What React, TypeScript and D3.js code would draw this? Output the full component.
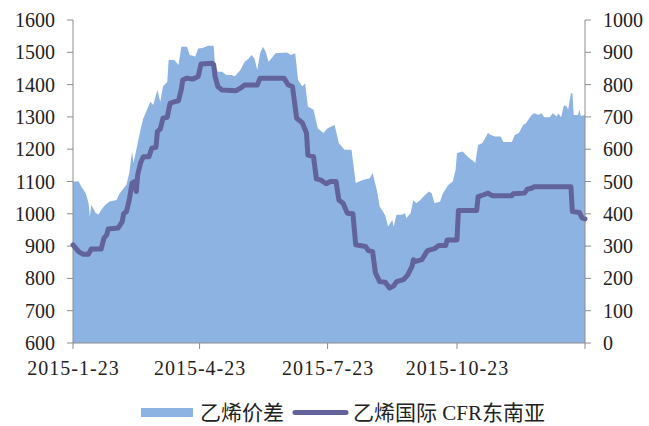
import React from "react";
import * as d3 from "d3";

// Day offsets from 2015-01-23
const spreadDays = [
  0, 4, 6, 9, 11, 12, 13, 16, 18, 20,
  23, 26, 31, 33, 36, 38, 40, 42, 43, 45,
  48, 50, 52, 55, 57, 60, 62, 64, 67, 68,
  72, 75, 77, 81, 83, 87, 89, 92, 96, 100,
  101, 103, 106, 109, 113, 115, 119, 122, 125, 127,
  129, 131, 133, 135, 137, 139, 141, 144, 152, 155,
  158, 160, 163, 165, 167, 171, 174, 178, 181, 186,
  189, 193, 198, 201, 206, 211, 213, 216, 218, 222,
  224, 227, 228, 230, 234, 236, 237, 240, 242, 244,
  247, 249, 253, 255, 257, 261, 263, 267, 270, 272,
  273, 277, 281, 285, 286, 288, 291, 293, 295, 297,
  300, 304, 306, 312, 314, 317, 320, 322, 326, 328,
  331, 333, 335, 339, 341, 344, 345, 347, 349, 351,
  352, 354, 355, 356, 359, 360, 361, 364,
];
// 乙烯价差 (right axis)
const spreadValues = [
  500, 500, 484, 464, 434, 392, 428, 403, 397, 412,
  428, 438, 443, 462, 479, 490, 526, 593, 557, 598,
  660, 696, 716, 747, 737, 783, 747, 794, 809, 876,
  876, 861, 917, 917, 892, 887, 912, 913, 920, 920,
  861, 840, 840, 830, 830, 825, 845, 871, 881, 892,
  881, 845, 897, 917, 902, 871, 881, 897, 899, 892,
  897, 814, 794, 804, 732, 722, 665, 650, 665, 675,
  619, 598, 598, 495, 505, 510, 526, 474, 423, 395,
  361, 381, 361, 397, 397, 402, 387, 402, 443, 433,
  443, 453, 469, 464, 433, 438, 464, 490, 500, 536,
  588, 593, 575, 562, 557, 613, 619, 634, 650, 644,
  639, 639, 622, 622, 644, 650, 675, 680, 706, 711,
  706, 712, 699, 699, 711, 701, 711, 699, 736, 732,
  722, 773, 773, 706, 706, 722, 703, 706,
];

const priceDays = [
  0, 4, 7, 11, 13, 20, 22, 24, 25, 32,
  35, 36, 38, 40, 42, 44, 45, 46, 48, 50,
  54, 56, 59, 60, 62, 64, 67, 69, 72, 75,
  77, 78, 81, 85, 89, 91, 99, 100, 101, 103,
  106, 116, 119, 122, 131, 133, 150, 153, 156, 159,
  163, 166, 167, 171, 173, 176, 180, 183, 187, 189,
  192, 195, 199, 201, 208, 210, 213, 215, 218, 222,
  225, 228, 230, 235, 238, 241, 242, 243, 248, 252,
  257, 260, 265, 266, 273, 274, 287, 288, 292, 295,
  298, 312, 313, 321, 323, 326, 328, 354, 355, 360,
  362, 364,
];
// 乙烯国际 CFR东南亚 (left axis)
const priceValues = [
  904, 883, 875, 875, 891, 891, 925, 935, 953, 956,
  976, 1000, 1007, 1043, 1095, 1100, 1069, 1121, 1157, 1177,
  1177, 1203, 1206, 1255, 1262, 1296, 1299, 1342, 1347, 1350,
  1385, 1414, 1420, 1417, 1425, 1464, 1466, 1462, 1425, 1394,
  1383, 1381, 1389, 1399, 1399, 1420, 1420, 1399, 1394, 1296,
  1282, 1250, 1182, 1177, 1108, 1105, 1093, 1100, 1100, 1043,
  1033, 1002, 1000, 904, 899, 886, 883, 817, 790, 788,
  770, 777, 790, 796, 811, 837, 858, 852, 858, 886,
  892, 902, 902, 919, 919, 1010, 1010, 1053, 1059, 1064,
  1056, 1056, 1062, 1064, 1076, 1079, 1084, 1084, 1007, 1004,
  987, 984,
];

const xTickDays = [0, 90, 181, 273, 364];
const xTickLabels = ["2015-1-23", "2015-4-23", "2015-7-23", "2015-10-23", ""];
const leftTicks = [600, 700, 800, 900, 1000, 1100, 1200, 1300, 1400, 1500, 1600];
const rightTicks = [0, 100, 200, 300, 400, 500, 600, 700, 800, 900, 1000];
const seriesNames = ["乙烯价差", "乙烯国际 CFR东南亚"];

const START = new Date(2015, 0, 23);
const dayToDate = (d: number) => d3.timeDay.offset(START, d);

const AREA_COLOR = "#8DB3E2";
const LINE_COLOR = "#63639B";
const AXIS_COLOR = "#8C8C8C";
const FONT = "'Liberation Serif', 'Noto Sans CJK SC', serif";

export default function App() {
  const W = 649, H = 426;
  const left = 73, right = 585, top = 20, bottom = 343;
  const x = d3.scaleTime().domain([START, dayToDate(364)]).range([left, right]);
  const yL = d3.scaleLinear().domain([600, 1600]).range([bottom, top]);
  const yR = d3.scaleLinear().domain([0, 1000]).range([bottom, top]);

  const spread = spreadDays.map((d, i) => ({ date: dayToDate(d), v: spreadValues[i] }));
  const price = priceDays.map((d, i) => ({ date: dayToDate(d), v: priceValues[i] }));

  const areaPath = d3
    .area<{ date: Date; v: number }>()
    .x((d) => x(d.date))
    .y0(yR(0))
    .y1((d) => yR(d.v))(spread) || "";
  const linePath = d3
    .line<{ date: Date; v: number }>()
    .x((d) => x(d.date))
    .y((d) => yL(d.v))(price) || "";

  return (
    <svg
      width={W}
      height={H}
      style={{ position: "absolute", left: 0, top: 0, display: "block", background: "#fff" }}
    >
      <path d={areaPath} fill={AREA_COLOR} />
      {/* left axis */}
      <line x1={left} x2={left} y1={top} y2={bottom} stroke={AXIS_COLOR} strokeWidth={1} />
      {leftTicks.map((t) => (
        <g key={"l" + t}>
          <line x1={left - 6} x2={left} y1={yL(t)} y2={yL(t)} stroke={AXIS_COLOR} />
          <text
            x={left - 18}
            y={yL(t)}
            textAnchor="end"
            dominantBaseline="central"
            fontFamily={FONT}
            fontSize={20}
            fill="#222"
          >
            {t}
          </text>
        </g>
      ))}
      {/* right axis */}
      <line x1={right} x2={right} y1={top} y2={bottom} stroke={AXIS_COLOR} strokeWidth={1} />
      {rightTicks.map((t) => (
        <g key={"r" + t}>
          <line x1={right} x2={right + 6} y1={yR(t)} y2={yR(t)} stroke={AXIS_COLOR} />
          <text
            x={right + 18}
            y={yR(t)}
            textAnchor="start"
            dominantBaseline="central"
            fontFamily={FONT}
            fontSize={20}
            fill="#222"
          >
            {t}
          </text>
        </g>
      ))}
      {/* bottom axis */}
      <line x1={left} x2={right} y1={bottom} y2={bottom} stroke={AXIS_COLOR} strokeWidth={1} />
      {xTickDays.map((d, i) => (
        <g key={"x" + d}>
          <line
            x1={x(dayToDate(d))}
            x2={x(dayToDate(d))}
            y1={bottom}
            y2={bottom + 6}
            stroke={AXIS_COLOR}
          />
          <text
            x={x(dayToDate(d)) + 0.5}
            y={375}
            textAnchor="middle"
            fontFamily={FONT}
            fontSize={20}
            letterSpacing={1}
            fill="#222"
          >
            {xTickLabels[i]}
          </text>
        </g>
      ))}
      <path
        d={linePath}
        fill="none"
        stroke={LINE_COLOR}
        strokeWidth={5}
        strokeLinejoin="round"
        strokeLinecap="round"
      />
      {/* legend */}
      <rect x={141} y={408} width={52} height={9} fill={AREA_COLOR} />
      <text x={200} y={413} dominantBaseline="central" fontFamily={FONT} fontSize={21} fill="#222">
        {seriesNames[0]}
      </text>
      <line
        x1={295}
        x2={346}
        y1={412.5}
        y2={412.5}
        stroke={LINE_COLOR}
        strokeWidth={5}
        strokeLinecap="round"
      />
      <text x={353} y={413} dominantBaseline="central" fontFamily={FONT} fontSize={21} fill="#222">
        {seriesNames[1]}
      </text>
    </svg>
  );
}
